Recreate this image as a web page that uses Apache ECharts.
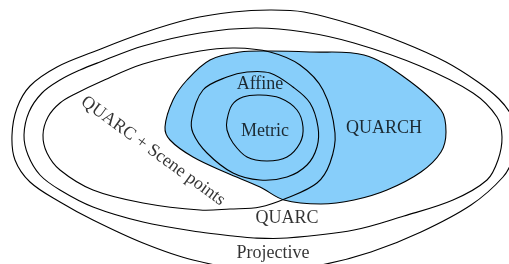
<!DOCTYPE html>
<html>
<head>
<meta charset="utf-8">
<script src="https://cdn.jsdelivr.net/npm/echarts@6/dist/echarts.min.js"></script>
<style>
html,body{margin:0;padding:0;background:#fff;}
#chart{width:509px;height:264px;}
</style>
</head>
<body>
<div id="chart"></div>
<script>
// Outline points of each region (diagram coordinates)
const projective = [[12,135],[17,108],[30,86],[57,67],[93,52],[143,33],[190,19],[233,12],[270,10],[304,12],[354,25],[404,43],[446,62],[478,82],[499,99],[511,115],[516,136],[513,158],[503,177],[471,205],[421,232],[371,252],[321,265],[265,272],[193,260],[143,243],[93,220],[60,202],[30,182],[15,160]];
const quarc = [[24,135],[29,112],[42,93],[60,80],[80,70],[100,62],[143,46],[200,33],[255,28],[304,32],[354,43],[420,66],[473,93],[497,117],[502,137],[498,160],[487,180],[453,200],[404,216],[354,230],[287,238],[254,238],[233,236],[200,232],[143,222],[93,207],[60,190],[40,175],[28,155]];
const quarcScene = [[43,135],[48,117],[60,103],[77,93],[100,82],[143,64],[200,51],[235,48],[270,52],[300,65],[323,90],[335,133],[330,163],[317,183],[287,198],[260,207],[230,209],[200,210],[143,203],[93,190],[60,170],[47,153]];
const quarch = [[165,127],[173,100],[187,80],[210,60],[240,52],[270,51],[310,52],[364,55],[404,77],[441,110],[446,132],[441,152],[421,172],[387,190],[354,200],[321,204],[284,200],[260,187],[227,173],[193,157],[170,140]];
const affine = [[192,118],[203,90],[227,77],[247,72],[270,73],[293,87],[310,103],[318,127],[317,147],[307,165],[287,177],[260,180],[233,173],[207,153],[193,133]];
const metric = [[227,120],[232,105],[243,97],[260,95],[280,98],[297,110],[303,127],[300,143],[287,157],[267,161],[247,157],[233,143],[227,130]];

// Labels
const labelNames = ['Affine','Metric','QUARCH','QUARC','Projective','QUARC + Scene points'];
const labelPos = [[260,84],[265,131],[384,128],[287,218],[273,253],[153,151]];
const labelRotate = [0,0,0,0,0,-36];

// Draw order: filled region first, then outlines on top
const shapes = [
  {pts: quarch, fill: '#87CEFA'},
  {pts: projective, fill: 'none'},
  {pts: quarc, fill: 'none'},
  {pts: quarcScene, fill: 'none'},
  {pts: affine, fill: 'none'},
  {pts: metric, fill: 'none'}
];

const chart = echarts.init(document.getElementById('chart'), null, {renderer:'canvas'});
chart.setOption({
  animation: false,
  backgroundColor: '#fff',
  grid: {left:0, right:0, top:0, bottom:0, containLabel:false},
  xAxis: {type:'value', min:0, max:509, show:false},
  yAxis: {type:'value', min:0, max:264, inverse:true, show:false},
  series: [
    {
      type: 'custom',
      coordinateSystem: 'cartesian2d',
      clip: false,
      data: shapes.map((s,i)=>[i]),
      renderItem: function(params, api){
        const s = shapes[api.value(0)];
        const points = s.pts.map(p => api.coord(p));
        return {
          type: 'polygon',
          shape: {points: points, smooth: 0.35},
          style: {fill: s.fill, stroke: '#000', lineWidth: 1.1}
        };
      }
    },
    {
      type: 'scatter',
      symbolSize: 0,
      silent: true,
      data: labelNames.map((n,i)=>({name:n, value:labelPos[i], label:{rotate:labelRotate[i]}})),
      label: {
        show: true,
        position: 'inside',
        formatter: '{b}',
        color: '#000',
        textBorderWidth: 0,
        textBorderColor: 'transparent',
        fontFamily: 'Liberation Serif',
        fontSize: 18
      }
    }
  ]
});
</script>
</body>
</html>
